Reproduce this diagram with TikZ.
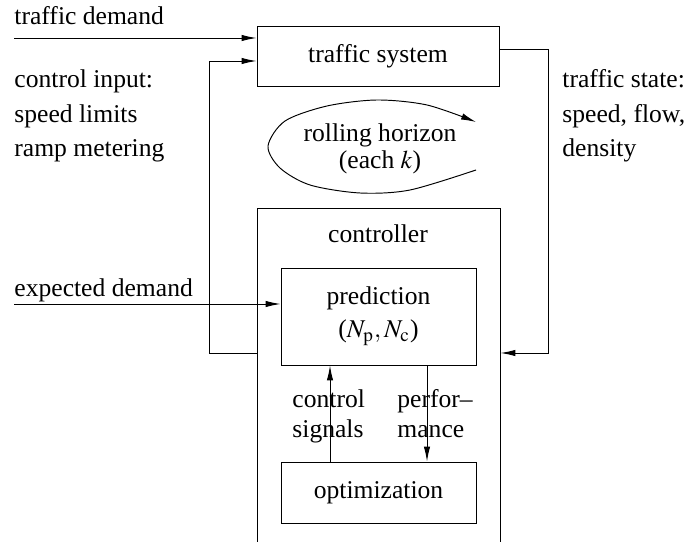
\documentclass[tikz,border=0pt]{standalone}
\usepackage{mathptmx}
\usepackage{fontspec}
\setmainfont{Liberation Serif}
\usetikzlibrary{arrows.meta,fit}

\tikzset{
	box/.style={draw, line width=0.45pt, inner sep=0pt},
	arr/.style={-{Latex[length=7pt,width=3pt]}, line width=0.45pt},
	txt/.style={font=\fontsize{12}{15.5}\selectfont, align=center, inner sep=0pt},
	side/.style={font=\fontsize{12}{16.4}\selectfont, align=left, inner sep=0pt},
	sig/.style={font=\fontsize{12}{14.5}\selectfont, align=left, inner sep=0pt},
}

\begin{document}
\begin{tikzpicture}[x=0.46875pt, y=0.46875pt]
		
		\useasboundingbox (0,0) rectangle (687,-542);
		\clip (0,0) rectangle (687,-542);
		
		% Boxes
		\node[box, fit={(257,-26) (499,-86)}, label={[txt]center:traffic system}] (sys) {};
		\node[box, fit={(257,-208) (500,-580)}] (ctrl) {};
		\node[box, fit={(281,-268) (476,-365)}, label={[txt]center:prediction\\($N_\mathrm{p}, N_\mathrm{c}$)}] (pred) {};
		\node[box, fit={(281,-462) (476,-523)}, label={[txt]center:optimization}] (opt) {};
		
		% Texts (base = last line)
		\node[txt, anchor=base] (ctrltitle) at (378,-243) {controller};
		\node[side, anchor=base west] (demtxt) at (14,-25) {traffic demand};
		\node[side, anchor=base west] (edemtxt) at (14,-297) {expected demand};
		\node[side, anchor=base west] (cintxt) at (14,-157) {control input:\\speed limits\\ramp metering};
		\node[side, anchor=base west] (sttxt) at (562,-157) {traffic state:\\speed, flow,\\density};
		\node[sig, anchor=base west] (cstxt) at (292,-438) {control\\signals};
		\node[sig, anchor=base west] (perftxt) at (397,-438) {perfor--\\mance};
		\node[txt, font=\fontsize{12}{13.1}\selectfont, anchor=base] (rolltxt) at (380,-169) {rolling horizon\\(each $k$)};
		
		% Inputs
		\coordinate (dem) at (14,-38);
		\coordinate (edem) at (14,-304);
		\draw[arr] (dem) -- (dem -| sys.west);
		\draw[arr] (edem) -- (edem -| pred.west);
		
		% Feedback loops
		\coordinate (cin) at (209,-353);
		\coordinate (cintop) at (209,-61);
		\draw[arr] (cin -| ctrl.west) -- (cin) -- (cintop) -- (cintop -| sys.west);
		
		\coordinate (st) at (548,-49);
		\coordinate (stbot) at (548,-353);
		\draw[arr] (st -| sys.east) -- (st) -- (stbot) -- (stbot -| ctrl.east);
		
		% Inner signals
		\coordinate (cs) at (330,-410);
		\coordinate (perf) at (427,-410);
		\draw[arr] (opt.north -| cs) -- (pred.south -| cs);
		\draw[arr] (pred.south -| perf) -- (opt.north -| perf);
		
		% Rolling horizon
		\draw[arr, smooth] plot coordinates {(476,-170) (410,-190) (360,-193) (310,-185) (280,-168) (268,-146) (285,-121) (327,-106) (377,-100) (427,-105) (476,-122)};
		
	\end{tikzpicture}
\end{document}
